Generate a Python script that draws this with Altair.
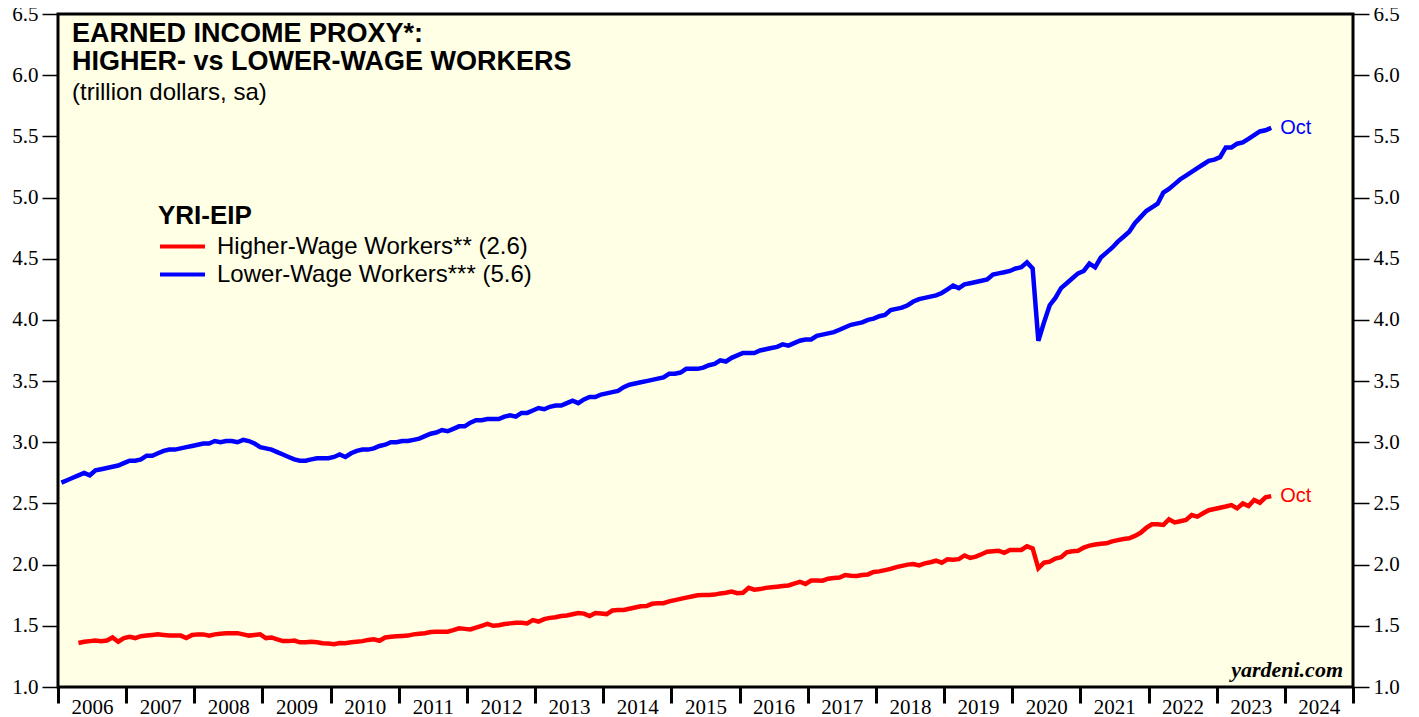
import altair as alt
import pandas as pd

# ---------------- data ----------------
HIGHER = "Higher-Wage Workers** (2.6)"
LOWER = "Lower-Wage Workers*** (5.6)"

# monthly values, Jan 2006 .. Oct 2023 (trillion dollars, sa)
lower_wage = [
    2.67, 2.69, 2.71, 2.73, 2.75, 2.73, 2.77, 2.78, 2.79, 2.80, 2.81, 2.83,  # 2006
    2.85, 2.85, 2.86, 2.89, 2.89, 2.91, 2.93, 2.94, 2.94, 2.95, 2.96, 2.97,  # 2007
    2.98, 2.99, 2.99, 3.01, 3.00, 3.01, 3.01, 3.00, 3.02, 3.01, 2.99, 2.96,  # 2008
    2.95, 2.94, 2.92, 2.90, 2.88, 2.86, 2.85, 2.85, 2.86, 2.87, 2.87, 2.87,  # 2009
    2.88, 2.90, 2.88, 2.91, 2.93, 2.94, 2.94, 2.95, 2.97, 2.98, 3.00, 3.00,  # 2010
    3.01, 3.01, 3.02, 3.03, 3.05, 3.07, 3.08, 3.10, 3.09, 3.11, 3.13, 3.13,  # 2011
    3.16, 3.18, 3.18, 3.19, 3.19, 3.19, 3.21, 3.22, 3.21, 3.24, 3.24, 3.26,  # 2012
    3.28, 3.27, 3.29, 3.30, 3.30, 3.32, 3.34, 3.32, 3.35, 3.37, 3.37, 3.39,  # 2013
    3.40, 3.41, 3.42, 3.45, 3.47, 3.48, 3.49, 3.50, 3.51, 3.52, 3.53, 3.56,  # 2014
    3.56, 3.57, 3.60, 3.60, 3.60, 3.61, 3.63, 3.64, 3.67, 3.66, 3.69, 3.71,  # 2015
    3.73, 3.73, 3.73, 3.75, 3.76, 3.77, 3.78, 3.80, 3.79, 3.81, 3.83, 3.84,  # 2016
    3.84, 3.87, 3.88, 3.89, 3.90, 3.92, 3.94, 3.96, 3.97, 3.98, 4.00, 4.01,  # 2017
    4.03, 4.04, 4.08, 4.09, 4.10, 4.12, 4.15, 4.17, 4.18, 4.19, 4.20, 4.22,  # 2018
    4.25, 4.28, 4.26, 4.29, 4.30, 4.31, 4.32, 4.33, 4.37, 4.38, 4.39, 4.40,  # 2019
    4.42, 4.43, 4.47, 4.42, 3.83, 3.98, 4.12, 4.18, 4.26, 4.30, 4.34, 4.38,  # 2020
    4.40, 4.46, 4.43, 4.51, 4.55, 4.59, 4.64, 4.68, 4.72, 4.79, 4.84, 4.89,  # 2021
    4.92, 4.95, 5.04, 5.07, 5.11, 5.15, 5.18, 5.21, 5.24, 5.27, 5.30, 5.31,  # 2022
    5.33, 5.41, 5.41, 5.44, 5.45, 5.48, 5.51, 5.54, 5.55, 5.57,              # 2023
]

# monthly values, Apr 2006 .. Oct 2023
higher_wage_start = 3  # month index of first value (Apr 2006)
higher_wage = [
    1.36, 1.37, 1.375, 1.38, 1.375, 1.38, 1.405, 1.37, 1.40,                      # 2006
    1.41, 1.40, 1.415, 1.42, 1.425, 1.43, 1.425, 1.42, 1.42, 1.42, 1.40, 1.425,   # 2007
    1.43, 1.43, 1.42, 1.43, 1.435, 1.44, 1.44, 1.44, 1.43, 1.42, 1.425, 1.43,     # 2008
    1.40, 1.405, 1.39, 1.375, 1.375, 1.38, 1.365, 1.365, 1.37, 1.365, 1.357, 1.355,  # 2009
    1.35, 1.36, 1.357, 1.365, 1.37, 1.375, 1.385, 1.39, 1.378, 1.405, 1.41, 1.415,   # 2010
    1.417, 1.42, 1.43, 1.435, 1.44, 1.45, 1.452, 1.452, 1.452, 1.465, 1.48, 1.475,   # 2011
    1.47, 1.485, 1.50, 1.515, 1.50, 1.505, 1.515, 1.52, 1.525, 1.525, 1.52, 1.547,   # 2012
    1.535, 1.555, 1.565, 1.57, 1.58, 1.585, 1.595, 1.605, 1.60, 1.58, 1.605, 1.60,   # 2013
    1.596, 1.625, 1.63, 1.63, 1.64, 1.65, 1.66, 1.662, 1.68, 1.685, 1.685, 1.70,     # 2014
    1.71, 1.72, 1.73, 1.74, 1.75, 1.752, 1.752, 1.755, 1.765, 1.77, 1.78, 1.766,     # 2015
    1.77, 1.81, 1.795, 1.80, 1.81, 1.815, 1.82, 1.825, 1.83, 1.845, 1.86, 1.842,     # 2016
    1.87, 1.87, 1.869, 1.885, 1.89, 1.895, 1.915, 1.91, 1.907, 1.915, 1.92, 1.94,    # 2017
    1.945, 1.955, 1.965, 1.98, 1.99, 2.00, 2.005, 1.994, 2.01, 2.02, 2.032, 2.016,   # 2018
    2.043, 2.04, 2.045, 2.075, 2.055, 2.065, 2.085, 2.105, 2.11, 2.114, 2.097, 2.12, # 2019
    2.12, 2.12, 2.15, 2.133, 1.97, 2.016, 2.024, 2.05, 2.06, 2.10, 2.11, 2.114,      # 2020
    2.14, 2.155, 2.165, 2.17, 2.174, 2.19, 2.20, 2.21, 2.215, 2.235, 2.26, 2.30,     # 2021
    2.33, 2.33, 2.324, 2.37, 2.345, 2.355, 2.365, 2.405, 2.392, 2.42, 2.445, 2.455,  # 2022
    2.465, 2.475, 2.487, 2.46, 2.50, 2.479, 2.528, 2.506, 2.55, 2.56,                # 2023
]

year_ticks = list(range(2006, 2026))
y_ticks = [1.0, 1.5, 2.0, 2.5, 3.0, 3.5, 4.0, 4.5, 5.0, 5.5, 6.0, 6.5]
series_names = [HIGHER, LOWER]
series_colors = ["#FF0000", "#0000FF"]

# ---------------- tables ----------------
rows = []
for i, v in enumerate(lower_wage):
    rows.append({"t": 2006 + (i + 0.6) / 12, "value": v, "series": LOWER})
for i, v in enumerate(higher_wage):
    m = higher_wage_start + i
    rows.append({"t": 2006 + (m + 0.6) / 12, "value": v, "series": HIGHER})
df = pd.DataFrame(rows)
last = df.loc[df.groupby("series")["t"].idxmax()].reset_index(drop=True)
last_hi = last[last["series"] == HIGHER]
last_lo = last[last["series"] == LOWER]
one = pd.DataFrame({"k": [0]})

W, H = 1295, 673
SERIF = "Liberation Serif"
SANS = "Liberation Sans"

xscale = alt.Scale(domain=[2006, 2025], nice=False, zero=False)
yscale = alt.Scale(domain=[1.0, 6.5], nice=False, zero=False)

x_axis = alt.Axis(
    values=year_ticks, format="d", title=None, grid=False, domain=False,
    labelExpr="datum.value >= 2025 ? '' : datum.label",
    labelOffset=34, labelPadding=-7, tickSize=16, tickWidth=3, tickColor="black",
    labelFont=SERIF, labelFontSize=21, labelColor="black",
    labelFlush=False, labelOverlap=False,
)
x_enc = alt.X("t:Q", scale=xscale, axis=x_axis)

def y_axis(orient):
    return alt.Axis(
        orient=orient, values=y_ticks, format=".1f", title=None, grid=False,
        domain=False, tickSize=16, tickWidth=1.5, tickColor="black",
        labelFont=SERIF, labelFontSize=21, labelColor="black", labelPadding=4,
        labelFlush=False, labelOverlap=False,
    )

lines = alt.Chart(df).mark_line(strokeWidth=4.5).encode(
    x=x_enc,
    y=alt.Y("value:Q", scale=yscale, axis=y_axis("left")),
    color=alt.Color(
        "series:N",
        scale=alt.Scale(domain=series_names, range=series_colors),
        legend=alt.Legend(
            title="YRI-EIP", orient="none", legendX=100, legendY=189,
            symbolType="M-1,0L2.333,0", symbolSize=729, symbolStrokeWidth=4,
            titleFont=SANS, titleFontSize=26, titleFontWeight="bold", titleColor="black",
            labelFont=SANS, labelFontSize=24, labelColor="black",
            labelOffset=28, rowPadding=0, titlePadding=2, padding=0,
            labelLimit=600,
        ),
    ),
    order="t:Q",
)

oct_lo = alt.Chart(last_lo).mark_text(
    align="left", baseline="middle", dx=9, font=SANS, fontSize=20, color="#0000FF"
).encode(
    x=x_enc,
    y=alt.Y("value:Q", scale=yscale, axis=y_axis("right")),
    text=alt.value("Oct"),
)
oct_hi = alt.Chart(last_hi).mark_text(
    align="left", baseline="middle", dx=9, font=SANS, fontSize=20, color="#FF0000"
).encode(
    x=x_enc,
    y=alt.Y("value:Q", scale=yscale, axis=None),
    text=alt.value("Oct"),
)

def label(text, x, y, **kw):
    return alt.Chart(one).mark_text(text=text, align=kw.pop("align", "left"),
                                    baseline="alphabetic", **kw).encode(
        x=alt.value(x), y=alt.value(y))

t1 = label("EARNED INCOME PROXY*:", 14, 28, font=SANS, fontSize=27, fontWeight="bold", color="black")
t2 = label("HIGHER- vs LOWER-WAGE WORKERS", 14, 56, font=SANS, fontSize=27, fontWeight="bold", color="black")
t3 = label("(trillion dollars, sa)", 14, 86, font=SANS, fontSize=24, color="black")
src = label("yardeni.com", 1285, 663, align="right", font=SERIF, fontSize=22,
            fontWeight="bold", fontStyle="italic", color="black")

chart = alt.layer(lines, oct_lo, oct_hi, t1, t2, t3, src).resolve_axis(
    y="independent"
).properties(
    width=W, height=H,
    padding={"left": 50, "top": 6, "right": 58, "bottom": 30},
    autosize=alt.AutoSizeParams(type="none"),
    background="white",
).configure_view(
    fill="#FFFFE6", stroke="black", strokeWidth=3,
)

chart.save("out.html", embed_options={"renderer": "svg", "actions": False})
